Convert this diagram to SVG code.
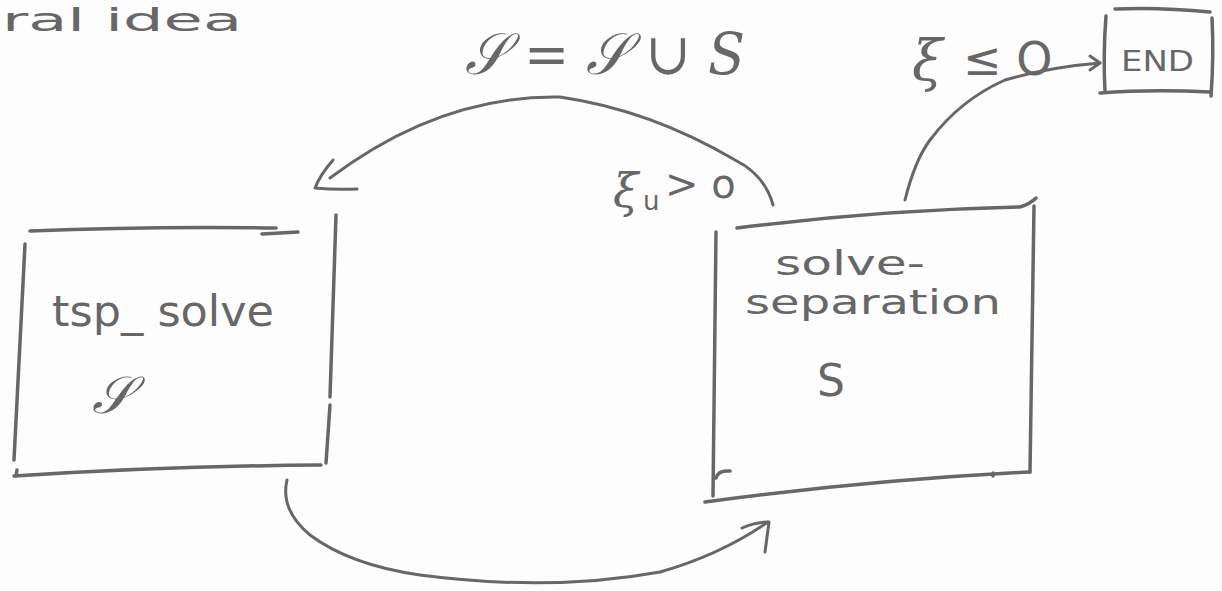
<svg xmlns="http://www.w3.org/2000/svg" width="1222" height="591" viewBox="0 0 1222 591">
<style>
.s{fill:none;stroke:#676767;stroke-width:3;stroke-linecap:round;stroke-linejoin:round}
.b{stroke-width:3.5}
.t{fill:#676767;font-family:"DejaVu Sans","Liberation Sans",sans-serif;font-weight:normal}
.m{fill:#676767;font-family:"DejaVu Serif","Liberation Serif",serif;font-style:italic}
</style>
<rect width="1222" height="591" fill="#fdfdfd"/>
<g id="title"><text class="t" x="2" y="31" font-size="32" textLength="240" lengthAdjust="spacingAndGlyphs">ral  idea</text></g>
<g id="update-label"><text class="m" x="465" y="74" font-size="58" textLength="280" lengthAdjust="spacingAndGlyphs">𝒮 = 𝒮 ∪ S</text></g>
<g id="tsp_solve">
<path class="s b" d="M30 231 Q150 226 276 228 M262 234 L298 232"/>
<path class="s b" d="M25 244 Q20 350 14 460"/>
<path class="s b" d="M17 470 L16 476"/>
<path class="s b" d="M336 215 Q333 300 330 397 M330 405 L326 463"/>
<path class="s b" d="M14 476 Q170 466 321 465"/>
<text class="t" x="52" y="326" font-size="42" textLength="222" lengthAdjust="spacingAndGlyphs">tsp_ solve</text>
<text class="m" x="92" y="413" font-size="52">𝒮</text>
</g>
<g id="solve-separation">
<path class="s b" d="M737 228 Q880 210 1020 207 M1020 207 Q1030 204 1036 198"/>
<path class="s b" d="M716 232 L713 496"/>
<path class="s b" d="M1034 206 Q1032 340 1030 472"/>
<path class="s b" d="M705 502 Q870 480 1030 472 M993 476 L993 473"/>
<path class="s b" d="M716 478 Q718 470 730 471"/>
<text class="t" x="775" y="275" font-size="34" textLength="150" lengthAdjust="spacingAndGlyphs">solve-</text>
<text class="t" x="745" y="314" font-size="34" textLength="256" lengthAdjust="spacingAndGlyphs">separation</text>
<text class="t" x="817" y="396" font-size="44">S</text>
</g>
<g id="end">
<path class="s b" d="M1115 9 Q1160 7 1210 12"/>
<path class="s b" d="M1106 16 Q1103 55 1105 92"/>
<path class="s b" d="M1212 18 Q1214 55 1211 96"/>
<path class="s b" d="M1100 93 Q1150 89 1210 92"/>
<text class="t" x="1121" y="71" font-size="28" textLength="73" lengthAdjust="spacingAndGlyphs">END</text>
</g>
<g id="connectors">
<path class="s" d="M773 205 Q765 175 735 160 Q650 110 560 97 Q440 95 330 178"/>
<path class="s" d="M333 160 Q320 175 315 188 Q335 190 357 189"/>
<path class="s" d="M287 480 Q280 510 310 535 Q350 565 420 575 Q550 592 660 572 Q720 555 768 522"/>
<path class="s" d="M742 528 Q755 522 769 522 L765 552"/>
<path class="s" d="M905 200 Q915 160 930 140 Q960 100 1005 80 Q1050 67 1100 63"/>
<path class="s" d="M1090 56 L1100 63 L1090 70"/>
</g>
<g id="labels">
<text class="m" x="613" y="207" font-size="46">ξ</text>
<text class="t" x="643" y="210" font-size="26">u</text>
<text class="t" x="665" y="198" font-size="40">&gt; o</text>
<text class="m" x="912" y="80" font-size="56">ξ</text>
<text class="t" x="963" y="75" font-size="46">≤ O</text>
</g>
</svg>
